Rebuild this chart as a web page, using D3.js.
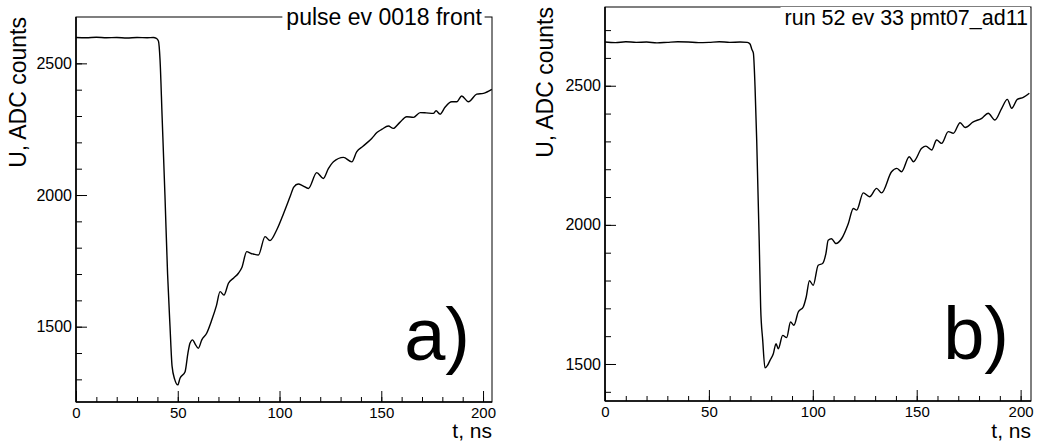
<!DOCTYPE html>
<html>
<head>
<meta charset="utf-8">
<script src="https://cdn.jsdelivr.net/npm/d3@7"></script>
<style>
  body { margin: 0; background: #fff; }
  svg { display: block; font-family: "Liberation Sans", Arial, sans-serif; }
</style>
</head>
<body>
<div id="chart"></div>
<script>
var width = 1038;
var height = 443;

// pulse a) - time (ns) and amplitude (ADC counts)
var tA = [0, 5, 10, 15, 20, 25, 30, 35, 38, 39.5, 40.5, 41.3, 42.3, 43.7, 45, 46.2, 47.2, 48.5, 50,
  51.1, 53.6, 55, 56, 57.3, 58.5, 60.1, 61.8, 64.2, 66.7, 69, 70.8, 72.7, 74.9, 77.5, 79.8, 81.5,
  83.9, 86, 87.1, 89.6, 92.9, 95.3, 98.6, 102, 105.2, 107, 109.2, 111.5, 114.2, 118.3, 121.5, 124,
  126.5, 131.4, 135.5, 137.9, 141, 145.3, 148, 150.2, 153.5, 155.9, 159, 162.5, 165.8, 169.1, 172,
  175.6, 176.9, 178.9, 181.3, 184.6, 187.1, 189.5, 192.8, 196.9, 200.2, 204.3];
var uA = [2598, 2597, 2599, 2597, 2598, 2596, 2598, 2597, 2598, 2595, 2585, 2512, 2300, 2000, 1700, 1500, 1350, 1300, 1279,
  1304, 1329, 1400, 1437, 1450, 1435, 1418, 1450, 1475, 1525, 1580, 1633, 1620, 1665, 1685, 1703, 1725,
  1785, 1778, 1776, 1772, 1842, 1827, 1867, 1930, 1994, 2030, 2042, 2035, 2025, 2085, 2063, 2100,
  2126, 2143, 2126, 2164, 2185, 2215, 2238, 2249, 2262, 2253, 2275, 2297, 2295, 2313, 2312,
  2310, 2320, 2307, 2333, 2354, 2354, 2376, 2354, 2383, 2386, 2401];

// pulse b)
var tB = [0, 5, 10, 15, 20, 25, 30, 35, 40, 45, 50, 55, 60, 65, 68.5, 69.8, 70.7, 71.4, 72.2, 73, 74.2,
  74.9, 75.9, 77, 78.2, 79.4, 81, 82.3, 83.4, 85.5, 87.4, 89.3, 90.9, 93, 95.4, 96.8, 98.4, 100.2,
  102.6, 104.7, 106.3, 107.4, 109, 111.1, 113.9, 117.1, 119.5, 121.1, 124.3, 127.3, 130.7, 133.1,
  137.9, 140.4, 142.7, 146.4, 148.4, 152.4, 154.4, 157.2, 159.6, 162, 165.2, 167.6, 170.9, 173.3,
  177.2, 181.3, 184.4, 187.6, 190.9, 193.6, 195.7, 198.4, 201.3, 204.2];
var uB = [2657, 2655, 2658, 2656, 2657, 2654, 2656, 2658, 2657, 2655, 2656, 2658, 2656, 2657, 2656, 2650, 2630, 2617, 2496, 2305, 1945,
  1705, 1585, 1486, 1495, 1513, 1537, 1573, 1555, 1603, 1595, 1651, 1639, 1687, 1705, 1740, 1799, 1783,
  1855, 1861, 1897, 1945, 1950, 1933, 1951, 2005, 2059, 2053, 2115, 2101, 2131, 2115,
  2191, 2203, 2191, 2245, 2227, 2275, 2283, 2269, 2305, 2293, 2335, 2329, 2367, 2350,
  2370, 2383, 2401, 2377, 2419, 2451, 2419, 2451, 2458, 2473];

var xMajor = [0, 50, 100, 150, 200];
var xMinor = d3.range(0, 201, 10);
var yMajorA = [1500, 2000, 2500];
var yMajorB = [1500, 2000, 2500];

var titles = ["pulse ev 0018 front", "run 52 ev 33 pmt07_ad11"];
var letters = ["a)", "b)"];
var xTitle = "t, ns";
var yTitle = "U, ADC counts";

var svg = d3.select("#chart")
    .append("svg")
    .attr("width", width)
    .attr("height", height);

var panels = [
  {t: tA, u: uA, yMajor: yMajorA, xDom: [0, 204.4], yDom: [1214, 2676],
   left: 76, right: 492, top: 17, bottom: 402, ytx: 26,
   title: titles[0], titleSize: 23, titleX: 482, letter: letters[0], letterX: 470},
  {t: tB, u: uB, yMajor: yMajorB, xDom: [0, 205], yDom: [1367, 2783],
   left: 605, right: 1031, top: 7, bottom: 401, ytx: 553,
   title: titles[1], titleSize: 21.5, titleX: 1028, letter: letters[1], letterX: 1009}
];

panels.forEach(function(p) {
  var x = d3.scaleLinear().domain(p.xDom).range([p.left, p.right]);
  var y = d3.scaleLinear().domain(p.yDom).range([p.bottom, p.top]);
  var yMinor = d3.range(Math.ceil(p.yDom[0] / 100) * 100, p.yDom[1], 100);

  var g = svg.append("g");

  // frame
  g.append("rect")
    .attr("x", p.left).attr("y", p.top)
    .attr("width", p.right - p.left).attr("height", p.bottom - p.top)
    .attr("fill", "none").attr("stroke", "#000").attr("stroke-width", 1);

  // x axis, ticks pointing inward
  var gx = g.append("g").attr("transform", "translate(0," + p.bottom + ")");
  gx.call(d3.axisBottom(x).tickValues(xMinor).tickSize(-5).tickFormat(""));
  gx.append("g").call(d3.axisBottom(x).tickValues(xMajor).tickSize(-11).tickPadding(5).tickFormat(d3.format("d")));
  gx.selectAll(".domain").remove();
  gx.selectAll("line").attr("stroke", "#000");
  gx.selectAll("text").attr("font-size", 15).attr("fill", "#000")
    .attr("font-family", "Liberation Sans, Arial, sans-serif");

  // y axis
  var gy = g.append("g").attr("transform", "translate(" + p.left + ",0)");
  gy.call(d3.axisLeft(y).tickValues(yMinor).tickSize(-6).tickFormat(""));
  gy.append("g").call(d3.axisLeft(y).tickValues(p.yMajor).tickSize(-11).tickPadding(4).tickFormat(d3.format("d")));
  gy.selectAll(".domain").remove();
  gy.selectAll("line").attr("stroke", "#000");
  gy.selectAll("text").attr("font-size", 16).attr("fill", "#000")
    .attr("font-family", "Liberation Sans, Arial, sans-serif");

  // axis lines, slightly heavier
  g.append("line").attr("x1", p.left).attr("x2", p.right).attr("y1", p.bottom).attr("y2", p.bottom)
    .attr("stroke", "#000").attr("stroke-width", 1.6);
  g.append("line").attr("x1", p.left).attr("x2", p.left).attr("y1", p.top).attr("y2", p.bottom)
    .attr("stroke", "#000").attr("stroke-width", 1.6);

  // pulse curve
  var pts = p.t.map(function(d, i) { return [d, p.u[i]]; });
  var line = d3.line()
    .x(function(d) { return x(d[0]); })
    .y(function(d) { return y(d[1]); })
    .curve(d3.curveMonotoneX);
  g.append("path")
    .datum(pts)
    .attr("d", line)
    .attr("fill", "none")
    .attr("stroke", "#000")
    .attr("stroke-width", 1.4)
    .attr("stroke-linejoin", "round");

  // title box (white, like a ROOT title pave)
  var title = g.append("text")
    .attr("x", p.titleX).attr("y", 25)
    .attr("text-anchor", "end").attr("font-size", p.titleSize)
    .text(p.title);
  var bb = title.node().getBBox();
  g.insert("rect", function() { return title.node(); })
    .attr("x", bb.x - 4).attr("y", bb.y + 1)
    .attr("width", bb.width + 6).attr("height", bb.height - 1)
    .attr("fill", "#fff");

  g.append("text")
    .attr("x", p.letterX).attr("y", p.bottom - 42)
    .attr("text-anchor", "end").attr("font-size", 74)
    .text(p.letter);

  g.append("text")
    .attr("x", p.right).attr("y", 438)
    .attr("text-anchor", "end").attr("font-size", 21)
    .text(xTitle);

  g.append("text")
    .attr("transform", "translate(" + p.ytx + "," + p.top + ") rotate(-90)")
    .attr("text-anchor", "end").attr("font-size", 23)
    .text(yTitle);
});
</script>
</body>
</html>
